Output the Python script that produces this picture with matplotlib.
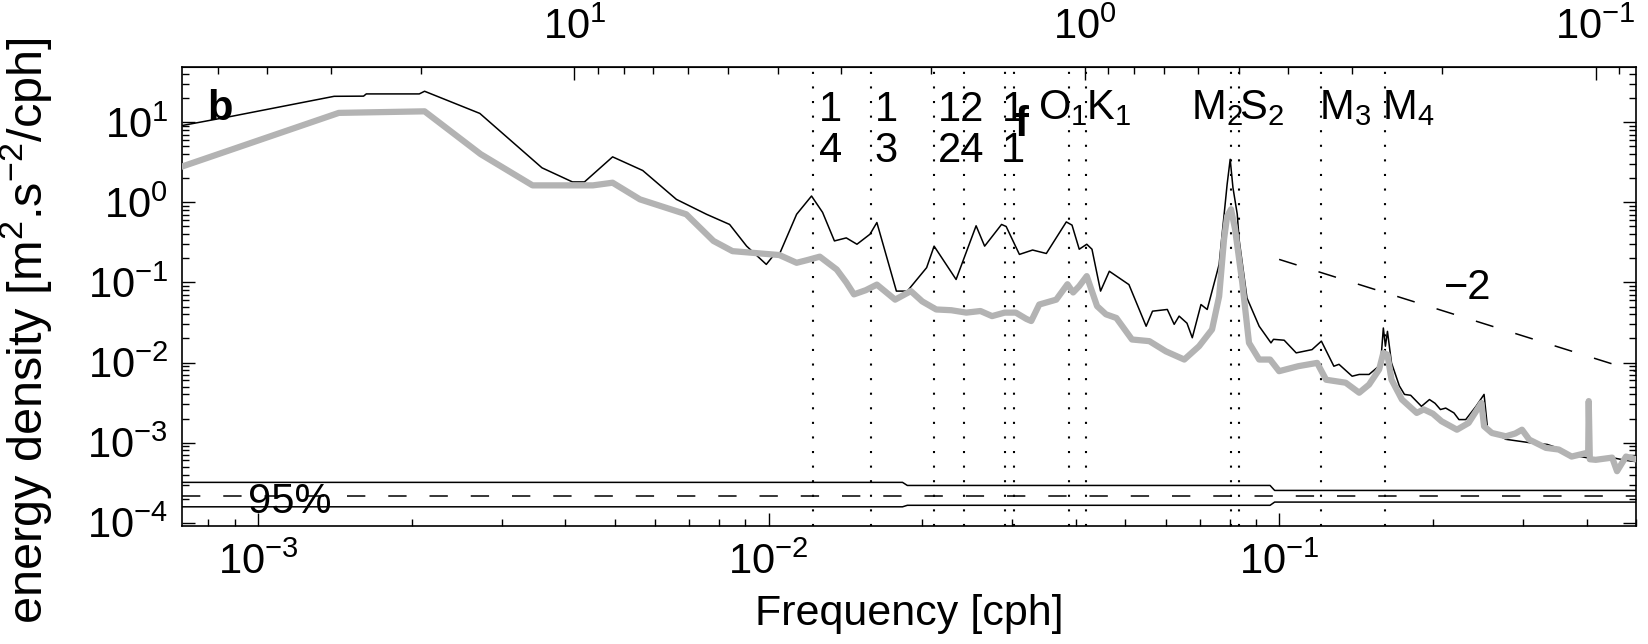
import numpy as np
import matplotlib
matplotlib.use("Agg")
from matplotlib import pyplot as plt
from matplotlib.ticker import NullFormatter, LogLocator

plt.rcParams['font.family'] = ['Liberation Sans', 'DejaVu Sans']
plt.rcParams['mathtext.fontset'] = 'custom'
plt.rcParams['mathtext.rm'] = 'Liberation Sans'
plt.rcParams['mathtext.it'] = 'Liberation Sans:italic'
plt.rcParams['mathtext.bf'] = 'Liberation Sans:bold'
plt.rcParams['mathtext.default'] = 'regular'

# raw spectrum (black)
raw_freq = [7.1e-4, 8.9e-4, 1.41e-3, 1.61e-3, 1.63e-3, 2.07e-3, 2.12e-3, 2.72e-3,
            3.6e-3, 4.13e-3, 4.36e-3, 4.95e-3, 5.67e-3, 6.6e-3, 7.56e-3, 8.39e-3,
            9.06e-3, 9.9e-3, 1.02e-2, 1.05e-2, 1.135e-2, 1.214e-2, 1.276e-2, 1.346e-2,
            1.42e-2, 1.49e-2, 1.58e-2, 1.63e-2, 1.78e-2, 1.87e-2, 2.04e-2, 2.11e-2,
            2.33e-2, 2.55e-2, 2.65e-2, 2.86e-2, 2.92e-2, 3.1e-2, 3.29e-2, 3.5e-2,
            3.83e-2, 3.93e-2, 4.06e-2, 4.2e-2, 4.3e-2, 4.47e-2, 4.65e-2, 5.08e-2,
            5.49e-2, 5.65e-2, 6.04e-2, 6.23e-2, 6.37e-2, 6.6e-2, 6.76e-2, 7.03e-2,
            7.23e-2, 7.63e-2, 7.91e-2, 8.02e-2, 8.12e-2, 8.28e-2, 8.35e-2, 8.65e-2,
            9.14e-2, 9.64e-2, 0.0975, 0.1023, 0.108, 0.116, 0.121, 0.128, 0.131,
            0.139, 0.1435, 0.15, 0.158, 0.160, 0.1615, 0.163, 0.166, 0.172, 0.176,
            0.181, 0.19, 0.197, 0.202, 0.207, 0.212, 0.22, 0.225, 0.232, 0.243,
            0.252, 0.256, 0.278, 0.309, 0.335, 0.353, 0.374, 0.417, 0.449, 0.478, 0.5]
raw_spec = [9.1, 11.9, 21.1, 21.2, 22.6, 22.6, 24.4, 12.9,
            2.7, 1.8, 1.8, 3.7, 2.5, 1.09, 0.71, 0.53,
            0.284, 0.168, 0.213, 0.224, 0.71, 1.2, 0.75, 0.33,
            0.36, 0.30, 0.40, 0.56, 0.078, 0.078, 0.153, 0.284,
            0.109, 0.51, 0.284, 0.53, 0.50, 0.224, 0.254, 0.23,
            0.57, 0.52, 0.26, 0.30, 0.26, 0.078, 0.138, 0.094,
            0.0284, 0.0438, 0.046, 0.030, 0.038, 0.031, 0.0204, 0.053,
            0.046, 0.168, 1.68, 3.45, 1.53, 0.71, 0.34, 0.064,
            0.0284, 0.0176, 0.0195, 0.019, 0.0132, 0.0145, 0.0185, 0.009, 0.0095,
            0.00675, 0.0071, 0.0071, 0.0094, 0.027, 0.016, 0.0245, 0.0099, 0.0051, 0.004,
            0.0039, 0.00284, 0.00345, 0.0031, 0.00259, 0.0027, 0.00235, 0.00194, 0.00194, 0.00284,
            0.004, 0.0015, 0.0011, 0.001, 0.00095, 0.00085, 0.0007, 0.00062, 0.00065, 0.0006, 0.00058]

# smoothed spectrum (grey)
smooth_freq = [7.1e-4, 1.44e-3, 2.12e-3, 2.73e-3, 3.45e-3, 4.53e-3, 4.95e-3, 5.6e-3,
               6.9e-3, 7.8e-3, 8.5e-3, 1.05e-2, 1.135e-2, 1.19e-2, 1.26e-2, 1.36e-2,
               1.42e-2, 1.47e-2, 1.55e-2, 1.63e-2, 1.77e-2, 1.9e-2, 2.0e-2, 2.13e-2,
               2.28e-2, 2.44e-2, 2.6e-2, 2.74e-2, 2.9e-2, 3.05e-2, 3.2e-2, 3.27e-2,
               3.39e-2, 3.66e-2, 3.85e-2, 3.95e-2, 4.06e-2, 4.2e-2, 4.4e-2, 4.58e-2,
               4.8e-2, 5.15e-2, 5.57e-2, 6.0e-2, 6.52e-2, 6.97e-2, 7.39e-2, 7.63e-2,
               7.8e-2, 7.91e-2, 8.05e-2, 8.2e-2, 8.47e-2, 8.73e-2, 9.14e-2, 9.6e-2,
               0.1, 0.109, 0.1187, 0.1236, 0.135, 0.1435, 0.15, 0.157, 0.16, 0.163,
               0.166, 0.174, 0.186, 0.192, 0.2, 0.208, 0.223, 0.235, 0.249, 0.252,
               0.261, 0.278, 0.29, 0.299, 0.309, 0.333, 0.353, 0.374, 0.399, 0.403,
               0.404, 0.406, 0.417, 0.449, 0.459, 0.478, 0.5]
smooth_spec = [2.8, 13.1, 13.7, 4.0, 1.63, 1.63, 1.76, 1.09,
               0.71, 0.33, 0.246, 0.22, 0.176, 0.19, 0.21, 0.145,
               0.1, 0.071, 0.08, 0.094, 0.061, 0.078, 0.058, 0.046,
               0.045, 0.042, 0.044, 0.038, 0.042, 0.042, 0.035, 0.033,
               0.053, 0.061, 0.095, 0.075, 0.09, 0.12, 0.0506, 0.040,
               0.036, 0.0194, 0.0185, 0.0138, 0.0109, 0.016, 0.0259, 0.067,
               0.345, 0.67, 0.82, 0.46, 0.099, 0.0176, 0.0109, 0.0109,
               0.0078, 0.009, 0.0099, 0.0061, 0.0056, 0.0042, 0.0053, 0.0082, 0.0132, 0.0125,
               0.0061, 0.00345, 0.00235, 0.0026, 0.0023, 0.00185, 0.00145, 0.00176, 0.00313, 0.0016,
               0.00132, 0.0012, 0.0013, 0.00145, 0.00109, 0.00086, 0.00082, 0.00067, 0.00074, 0.00072,
               0.0033, 0.00062, 0.00061, 0.00065, 0.00044, 0.00067, 0.00062]

# 95% confidence band
ci_freq = [7.1e-4, 0.0183, 0.0187, 0.096, 0.098, 0.5]
ci_upper = [3.19e-4, 3.19e-4, 2.92e-4, 2.92e-4, 2.53e-4, 2.53e-4]
ci_lower = [1.58e-4, 1.58e-4, 1.65e-4, 1.65e-4, 1.81e-4, 1.81e-4]
ci_ref = 2.18e-4

# dotted reference frequencies
line_freqs = [0.01221, 0.01589, 0.02113, 0.02418, 0.02905, 0.03020,
              0.03873, 0.04178, 0.08051, 0.08333, 0.12077, 0.16102]

# -2 slope reference
slope_f0 = 0.1
slope_e0 = 0.194

FS = 30

fig = plt.figure(figsize=(16.48, 6.44), dpi=100)
ax = fig.add_axes([182 / 1648, 1 - 526 / 644, (1636 - 182) / 1648, (526 - 67) / 644])
ax.set_xscale('log')
ax.set_yscale('log')

for f in line_freqs:
    ax.axvline(f, color='black', lw=1.5, linestyle=(0, (1, 6)), zorder=1)

ax.plot(raw_freq, raw_spec, color='black', lw=1.1, zorder=3)
ax.plot(smooth_freq, smooth_spec, color='#b3b3b3', lw=4.5, zorder=4)

ax.plot(ci_freq, ci_upper, color='black', lw=1.1, zorder=2)
ax.plot(ci_freq, ci_lower, color='black', lw=1.1, zorder=2)
ax.axhline(ci_ref, color='black', lw=1.1, linestyle=(0, (12, 15)), zorder=2)

sf = np.array([slope_f0, 0.5])
ax.plot(sf, slope_e0 * (sf / slope_f0) ** -2, color='black', lw=1.1,
        linestyle=(0, (12, 15)), zorder=2)

ax.set_xlim(7.1e-4, 0.5)
ax.set_ylim(9.1e-5, 49)

# annotations
ax.text(7.95e-4, 10.6, 'b', fontsize=FS, fontweight='bold')
ax.text(9.56e-4, 1.33e-4, '95%', fontsize=FS)
ax.text(0.2104, 0.0613, '\u22122', fontsize=FS)
ax.text(0.0303, 6.7, 'f', fontsize=FS, fontweight='bold')

top_y, bot_y = 10.3, 3.16
for x, t, b in [(0.01253, '1', '4'), (0.01612, '1', '3'),
                (0.02142, '12', '24'), (0.02870, '1', '1')]:
    ax.text(x, top_y, t, fontsize=FS)
    ax.text(x, bot_y, b, fontsize=FS)

for x, lab in [(0.03376, r'O$_1$'), (0.04191, r'K$_1$'), (0.06727, r'M$_2$'),
               (0.0835, r'S$_2$'), (0.1197, r'M$_3$'), (0.159, r'M$_4$')]:
    ax.text(x, 10.9, lab, fontsize=FS)

ax.set_xlabel('Frequency [cph]', fontsize=31, labelpad=8)
ax.set_ylabel(r'energy density [m$^2$.s$^{-2}$/cph]', fontsize=35)
ax.yaxis.set_label_coords(-0.088, 0.425)

ax.tick_params(axis='x', which='both', direction='in', top=False, bottom=True,
               labelsize=FS, pad=12)
ax.tick_params(axis='y', which='both', direction='in', left=True, right=True,
               labelsize=FS, pad=10)
ax.tick_params(which='major', length=9.5, width=1)
ax.tick_params(which='minor', length=5, width=1)
ax.yaxis.set_major_locator(LogLocator(base=10, numticks=20))
ax.yaxis.set_minor_locator(LogLocator(base=10, subs=np.arange(2, 10), numticks=20))
ax.yaxis.set_minor_formatter(NullFormatter())
ax.xaxis.set_minor_formatter(NullFormatter())
for s in ax.spines.values():
    s.set_linewidth(1.2)


def f2p(f):
    f = np.asarray(f, dtype=float)
    with np.errstate(divide='ignore'):
        return 1.0 / (24.0 * f)


secax = ax.secondary_xaxis('top', functions=(f2p, f2p))
secax.xaxis.set_minor_locator(LogLocator(base=10, subs=np.arange(2, 10), numticks=20))
secax.xaxis.set_minor_formatter(NullFormatter())
secax.tick_params(axis='x', which='both', direction='in', labelsize=FS, pad=14)
secax.tick_params(which='major', length=9.5, width=1)
secax.tick_params(which='minor', length=5, width=1)

fig.savefig('out.png', dpi=100)
